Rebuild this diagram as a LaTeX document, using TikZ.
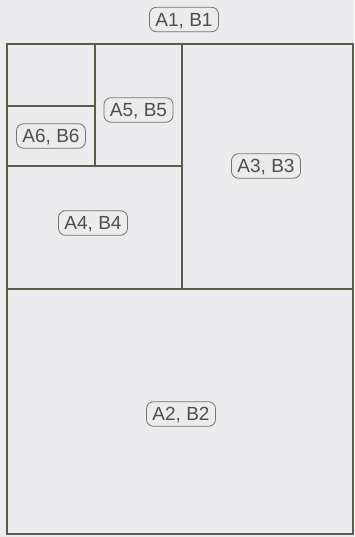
\documentclass[tikz,border=0pt]{standalone}
\usepackage{fontspec}
\setmainfont{Liberation Sans}
\definecolor{bg}{HTML}{ECECEE}
\definecolor{frame}{HTML}{5A5C4A}
\definecolor{lbl}{HTML}{4E4E4A}
\begin{document}
\begin{tikzpicture}[x=1pt,y=-1pt,
  sheet/.style={draw=frame,line width=2pt},
  tag/.style={draw=frame!85,line width=0.8pt,rounded corners=7pt,fill=bg,
    text=lbl,font=\fontsize{19}{19}\selectfont,inner xsep=6pt,
    text height=13.5pt,text depth=0pt,inner ysep=5.5pt}]
\fill[bg] (0,0) rectangle (354,537);
\useasboundingbox (0,0) rectangle (354,537);
% outer sheet A1
\draw[sheet] (7,44) rectangle (353,534);
% dividing lines
\draw[sheet] (7,289) -- (353,289);
\draw[sheet] (182,44) -- (182,289);
\draw[sheet] (7,166) -- (182,166);
\draw[sheet] (95,44) -- (95,166);
\draw[sheet] (7,106) -- (95,106);
% labels
\node[tag] (a1) at (184,19.5) {A1, B1};
\node[tag] (a5) at (138.5,110) {A5, B5};
\node[tag] (a6) at (51,136) {A6, B6};
\node[tag] (a4) at (93,223) {A4, B4};
\node[tag] (a3) at (266,166) {A3, B3};
\node[tag] (a2) at (181,414) {A2, B2};
\end{tikzpicture}
\end{document}
